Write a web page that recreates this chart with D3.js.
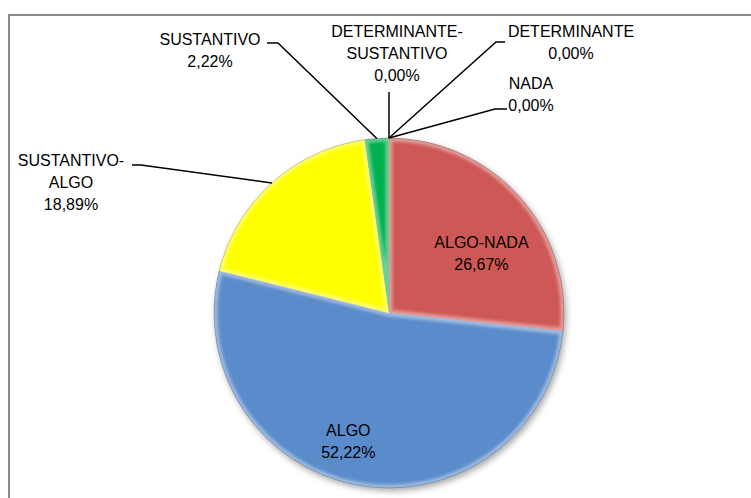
<!DOCTYPE html>
<html>
<head>
<meta charset="utf-8">
<script src="https://cdn.jsdelivr.net/npm/d3@7"></script>
<style>
  body { margin: 0; background: #fff; }
  svg { display: block; font-family: "Liberation Sans", Arial, sans-serif; }
</style>
</head>
<body>
<svg id="chart"></svg>
<script>
const categories = ["ALGO-NADA", "ALGO", "SUSTANTIVO-ALGO", "SUSTANTIVO", "DETERMINANTE-SUSTANTIVO", "DETERMINANTE", "NADA"]
const values = [26.67, 52.22, 18.89, 2.22, 0, 0, 0]
const colors = ["#cd5955", "#5a8bcb", "#ffff00", "#00b050", "#8064a2", "#4bacc6", "#f79646"]

// how Excel wrapped each label
const labelLines = [
    ["ALGO-NADA"], ["ALGO"], ["SUSTANTIVO-", "ALGO"], ["SUSTANTIVO"],
    ["DETERMINANTE-", "SUSTANTIVO"], ["DETERMINANTE"], ["NADA"]
]

// outside label placement: text centre, first baseline, leader elbow
const outside = {
    2: {x: 71, y: 166, elbow: [[132, 165], [141, 165]]},
    3: {x: 210, y: 45, elbow: [[267, 43], [278, 43]]},
    4: {x: 397, y: 37, elbow: [[389, 92]]},
    5: {x: 571, y: 37, elbow: [[505, 42], [496, 42]]},
    6: {x: 531, y: 89, elbow: [[507, 109], [495, 109]]}
}

const width = 751, height = 498
const cx = 389, cy = 313, radius = 175

const fmt = d3.formatLocale({decimal: ",", thousands: ".", grouping: [3], currency: ["", "€"]}).format(".2f")

const svg = d3.select("#chart").attr("width", width).attr("height", height)

const defs = svg.append("defs")
const shadow = defs.append("filter").attr("id", "shadow")
    .attr("x", "-20%").attr("y", "-20%").attr("width", "140%").attr("height", "140%")
shadow.append("feDropShadow").attr("dx", 2).attr("dy", 3).attr("stdDeviation", 3)
    .attr("flood-color", "#000").attr("flood-opacity", 0.35)
defs.append("filter").attr("id", "soft")
    .append("feGaussianBlur").attr("stdDeviation", 1.5)

// chart area border (only top and left visible)
svg.append("path")
    .attr("d", `M9,${height} V15 H${width}`)
    .attr("fill", "none").attr("stroke", "#8c8c8c").attr("stroke-width", 2)

const data = categories.map((c, i) => ({name: c, value: values[i], i}))
const pie = d3.pie().sort(null).value(d => d.value)
const arcs = pie(data)

const arc = d3.arc().innerRadius(0).outerRadius(radius)
const edge = d3.arc().innerRadius(radius).outerRadius(radius)
const inner = d3.arc().innerRadius(radius * 0.68).outerRadius(radius * 0.68)

const g = svg.append("g").attr("transform", `translate(${cx},${cy})`)
const shown = arcs.filter(d => d.data.value > 0)

shown.forEach(d => {
    defs.append("clipPath").attr("id", "clip" + d.data.i)
        .append("path").attr("d", arc(d))
})

g.append("g").attr("filter", "url(#shadow)")
  .selectAll("path")
  .data(shown)
  .join("path")
    .attr("d", arc)
    .attr("fill", d => colors[d.data.i])

// soft bevel: light band just inside each slice edge
g.append("g")
  .selectAll("g")
  .data(shown)
  .join("g")
    .attr("clip-path", d => `url(#clip${d.data.i})`)
  .append("path")
    .attr("d", arc)
    .attr("fill", "none")
    .attr("stroke", "#fff")
    .attr("stroke-opacity", 0.4)
    .attr("stroke-width", 7)
    .attr("filter", "url(#soft)")

g.append("circle").attr("r", radius)
    .attr("fill", "none").attr("stroke", "#000").attr("stroke-opacity", 0.2).attr("stroke-width", 1)

// inner labels for the big slices
const insideNudge = {0: [4, 21], 1: [-20, 12]}
arcs.filter(d => !(d.data.i in outside)).forEach(d => {
    const [x, y] = inner.centroid(d)
    const [nx, ny] = insideNudge[d.data.i] || [0, 0]
    const t = g.append("text").attr("text-anchor", "middle").attr("font-size", 16).attr("fill", "#000")
    labelLines[d.data.i].concat([fmt(d.data.value) + "%"]).forEach((s, k) => {
        t.append("tspan").attr("x", x + nx).attr("y", y + ny - 6 + k * 22).text(s)
    })
})

// outside labels with leader lines
arcs.filter(d => d.data.i in outside).forEach(d => {
    const o = outside[d.data.i]
    const [ex, ey] = edge.centroid(d)
    const pts = o.elbow.concat([[cx + ex, cy + ey]])
    svg.append("path")
        .attr("d", d3.line()(pts))
        .attr("fill", "none").attr("stroke", "#000").attr("stroke-width", 1.5)
    const t = svg.append("text").attr("text-anchor", "middle").attr("font-size", 16).attr("fill", "#000")
    labelLines[d.data.i].concat([fmt(d.data.value) + "%"]).forEach((s, k) => {
        t.append("tspan").attr("x", o.x).attr("y", o.y + k * 22).text(s)
    })
})
</script>
</body>
</html>
